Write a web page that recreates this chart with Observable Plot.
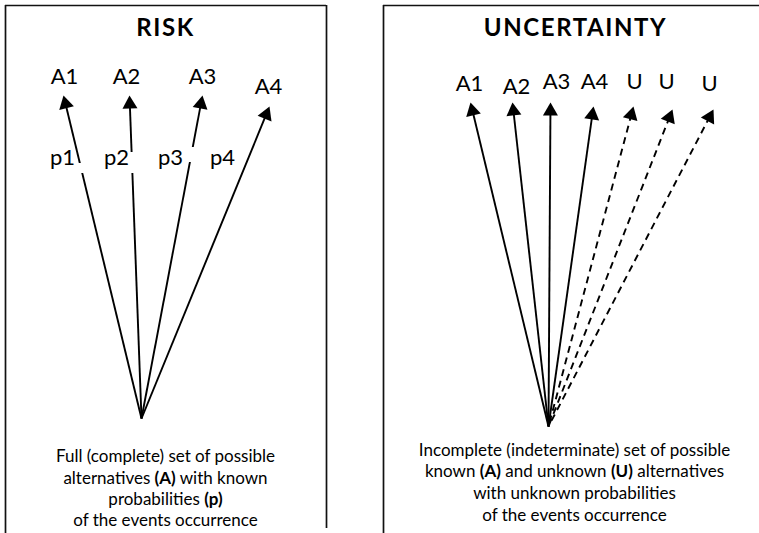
<!DOCTYPE html>
<html><head><meta charset="utf-8">
<script src="https://cdn.jsdelivr.net/npm/d3@7"></script>
<script src="https://cdn.jsdelivr.net/npm/@observablehq/plot@0.6"></script>
<style>body{margin:0;background:#fff} svg{display:block}</style>
</head><body><div id="chart"></div>
<script>
// ---- data (in the chart's own 759 x 533 drawing units) ----
const panelTitles = ["RISK", "UNCERTAINTY"];
const titleX = [165, 575];
const titleY = [28, 28];

// RISK panel: four known alternatives, all arrows from one origin
const riskLabels = ["A1", "A2", "A3", "A4"];
const riskLabelX = [64, 126, 202, 268];
const riskLabelY = [76, 76, 76, 86];
const riskTipX = [63, 129, 202, 269];
const riskTipY = [95, 95, 95, 106];
const riskOriginX = 141, riskOriginY = 418;
const probLabels = ["p1", "p2", "p3", "p4"];
const probX = [62, 116, 170, 222];
const probY = [157, 157, 157, 157];
// small white patches where the label boxes cut the arrows
const gapX1 = [74, 125, 183];
const gapX2 = [88, 137, 198];
const gapY1 = [163, 152, 147];
const gapY2 = [173, 173, 162];

// UNCERTAINTY panel: known (A) and unknown (U) alternatives
const uncLabels = ["A1", "A2", "A3", "A4", "U", "U", "U"];
const uncKnown = [true, true, true, true, false, false, false];
const uncLabelX = [469, 516, 556, 594, 634, 666, 709];
const uncLabelY = [83, 86, 81, 81, 81, 81, 83];
const uncTipX = [470, 512, 550, 593, 633, 672, 713];
const uncTipY = [102, 102, 102, 106, 106, 109, 109];
const uncOriginX = 548, uncOriginY = 426;

// captions (**…** = bold)
const riskCaption = ["Full (complete) set of possible", "alternatives **(A)** with known", "probabilities **(p)**", "of the events occurrence"];
const riskCaptionY = [456, 478, 499, 520];
const uncCaption = ["Incomplete (indeterminate) set of possible", "known **(A)** and unknown **(U)** alternatives", "with unknown probabilities", "of the events occurrence"];
const uncCaptionY = [450, 471, 493, 515];
const captionX = [165, 574];

// panel borders
const vBorderX = [5, 326, 383];
const vBorderY1 = [5, 5, 5];
const vBorderY2 = [533, 528, 533];
const hBorderY = [5, 5];
const hBorderX1 = [5, 383];
const hBorderX2 = [326, 759];

// ---- build tables ----
const arrows = [
  ...riskLabels.map((l, i) => ({x1: riskOriginX, y1: riskOriginY, x2: riskTipX[i], y2: riskTipY[i], known: true})),
  ...uncLabels.map((l, i) => ({x1: uncOriginX, y1: uncOriginY, x2: uncTipX[i], y2: uncTipY[i], known: uncKnown[i]}))
];
const HEAD = 13; // head length
arrows.forEach(a => {
  const dx = a.x2 - a.x1, dy = a.y2 - a.y1, len = Math.hypot(dx, dy);
  a.ux = dx / len; a.uy = dy / len;
  a.hx = a.x2 - a.ux * HEAD * 2 / 3; a.hy = a.y2 - a.uy * HEAD * 2 / 3; // centroid of head
  a.ex = a.x2 - a.ux * HEAD * 0.6; a.ey = a.y2 - a.uy * HEAD * 0.6;       // line end
  a.rot = Math.atan2(dx, -dy) * 180 / Math.PI;
});
const labels = [
  ...riskLabels.map((t, i) => ({t, x: riskLabelX[i], y: riskLabelY[i]})),
  ...uncLabels.map((t, i) => ({t, x: uncLabelX[i], y: uncLabelY[i]}))
];
const probs = probLabels.map((t, i) => ({t, x: probX[i], y: probY[i]}));
const gaps = gapX1.map((x1, i) => ({x1, x2: gapX2[i], y1: gapY1[i], y2: gapY2[i]}));
const titles = panelTitles.map((t, i) => ({t, x: titleX[i], y: titleY[i]}));
const captions = [
  ...riskCaption.map((t, i) => ({t, x: captionX[0], y: riskCaptionY[i]})),
  ...uncCaption.map((t, i) => ({t, x: captionX[1], y: uncCaptionY[i]}))
];
const vb = vBorderX.map((x, i) => ({x, y1: vBorderY1[i], y2: vBorderY2[i]}));
const hb = hBorderY.map((y, i) => ({y, x1: hBorderX1[i], x2: hBorderX2[i]}));

const FONT = "Lato, 'Open Sans', sans-serif";
// head size: d3 triangle with height = HEAD
const yy = HEAD / 3, area = yy * yy * 3 * Math.sqrt(3), R = Math.sqrt(area / Math.PI);

const plot = Plot.plot({
  width: 759, height: 533, margin: 0,
  x: {domain: [0, 759], range: [0, 759], axis: null},
  y: {domain: [0, 533], range: [0, 533], axis: null},
  style: {fontFamily: FONT, background: "white"},
  marks: [
    Plot.ruleX(vb, {x: "x", y1: "y1", y2: "y2", stroke: "#111", strokeWidth: 1.7}),
    Plot.ruleY(hb, {y: "y", x1: "x1", x2: "x2", stroke: "#111", strokeWidth: 1.7}),
    Plot.link(arrows.filter(a => a.known), {x1: "x1", y1: "y1", x2: "ex", y2: "ey", stroke: "black", strokeWidth: 1.9}),
    Plot.link(arrows.filter(a => !a.known), {x1: "ex", y1: "ey", x2: "x1", y2: "y1", stroke: "black", strokeWidth: 1.9, strokeDasharray: "7,5"}),
    Plot.dot(arrows, {x: "hx", y: "hy", rotate: "rot", symbol: "triangle", r: R, fill: "black", stroke: "none"}),
    Plot.rect(gaps, {x1: "x1", x2: "x2", y1: "y1", y2: "y2", fill: "white"}),
    Plot.text(titles, {x: "x", y: "y", text: "t", fontSize: 24, fontWeight: "bold", fill: "black"}),
    Plot.text(labels, {x: "x", y: "y", text: "t", fontSize: 22, fill: "black"}),
    Plot.text(probs, {x: "x", y: "y", text: "t", fontSize: 22, fill: "black"}),
    Plot.text(captions, {x: "x", y: "y", text: "t", fontSize: 17, fill: "black"})
  ]
});

plot.querySelectorAll("text, tspan").forEach(el => {
  if (el.children.length) return;
  // wider tracking on the panel titles
  if (panelTitles.includes(el.textContent)) el.setAttribute("letter-spacing", "1.6");
  // turn **…** into bold tspans
  if (!el.textContent.includes("**")) return;
  const parts = el.textContent.split("**");
  el.textContent = "";
  parts.forEach((p, i) => {
    const ts = document.createElementNS("http://www.w3.org/2000/svg", "tspan");
    ts.textContent = p;
    if (i % 2) ts.setAttribute("font-weight", "bold");
    el.appendChild(ts);
  });
});
document.getElementById("chart").appendChild(plot);
</script>
</body></html>
